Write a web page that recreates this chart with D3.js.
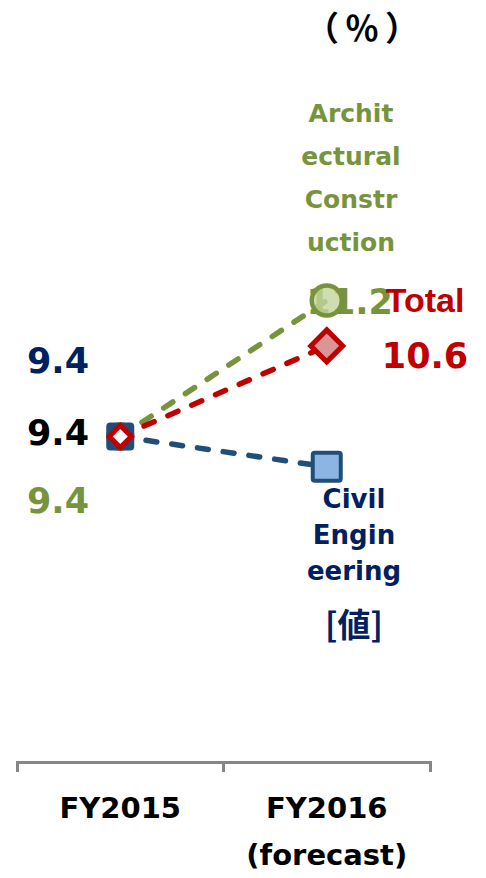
<!DOCTYPE html>
<html>
<head>
<meta charset="utf-8">
<script src="https://cdn.jsdelivr.net/npm/d3@7"></script>
<style>
  html, body { margin: 0; padding: 0; background: #ffffff; }
  svg { display: block; }
  text { font-family: "DejaVu Sans", Verdana, sans-serif; font-weight: bold; }
</style>
</head>
<body>
<svg id="chart" width="486" height="878"></svg>
<script>
// ---- data ----
const categories = ["FY2015", "FY2016"];
const categoryLabels = [["FY2015"], ["FY2016", "(forecast)"]];
const seriesNames = ["Architectural Construction", "Total", "Civil Engineering"];
const archValues = [9.4, 11.2];
const totalValues = [9.4, 10.6];
const civilValues = [9.4, 9.0];
const archLabelLines = ["Archit", "ectural", "Constr", "uction"];
const civilLabelLines = ["Civil", "Engin", "eering"];
const civilValueLabel = "[値]";
const unitLabel = "（％）";

// ---- colours ----
const green = "#77933C", greenLight = "#C3D69B";
const red = "#C00000", redLight = "#DA9694";
const blue = "#1F4E79", blueLight = "#8DB4E2";
const navy = "#002060";

const svg = d3.select("#chart");

const x = d3.scaleBand().domain(categories).range([17, 430]).padding(0);
const cx = c => x(c) + x.bandwidth() / 2;
const y = d3.scaleLinear().domain([5, 14]).range([769, 89]);
const axisY = 762;

// ---- axis ----
const axisG = svg.append("g").attr("transform", `translate(0,${axisY})`);
axisG.call(d3.axisBottom(x).tickSize(0).tickSizeOuter(10).tickFormat(""));
axisG.select(".domain").attr("stroke", "#878787").attr("stroke-width", 3).attr("fill", "none");
axisG.selectAll(".tick").remove();
axisG.append("line")
  .attr("x1", x("FY2016")).attr("x2", x("FY2016"))
  .attr("y1", 0).attr("y2", 10)
  .attr("stroke", "#878787").attr("stroke-width", 3);

categories.forEach((c, i) => {
  const t = svg.append("text").attr("text-anchor", "middle")
    .attr("font-size", 29).attr("fill", "#000");
  categoryLabels[i].forEach((ln, j) => {
    t.append("tspan").attr("x", cx(c)).attr("y", 818 + j * 47).text(ln);
  });
});

// ---- unit ----
svg.append("text").attr("x", 365).attr("y", 41).attr("text-anchor", "middle")
  .attr("font-size", 34).attr("fill", "#000").attr("letter-spacing", 6)
  .style("font-family", "'Noto Sans CJK JP', sans-serif")
  .text(unitLabel);

// ---- lines ----
function drawLine(values, color) {
  const line = d3.line().x((d, i) => cx(categories[i])).y(d => y(d));
  svg.append("path").datum(values)
    .attr("d", line).attr("fill", "none")
    .attr("stroke", color).attr("stroke-width", 5.5)
    .attr("stroke-linecap", "round")
    .attr("stroke-dasharray", "11,15");
}
drawLine(civilValues, blue);
drawLine(archValues, green);
drawLine(totalValues, red);

// green value label (drawn under marker)
svg.append("text").attr("x", cx("FY2016") + 23).attr("y", y(archValues[1]) + 13)
  .attr("text-anchor", "middle").attr("font-size", 35).attr("fill", green)
  .text(archValues[1].toFixed(1));

// ---- markers ----
archValues.forEach((v, i) => {
  svg.append("circle").attr("cx", cx(categories[i])).attr("cy", y(v))
    .attr("r", i === 0 ? 12 : 15)
    .attr("fill", i === 0 ? green : greenLight).attr("fill-opacity", i === 0 ? 1 : 0.8)
    .attr("stroke", green).attr("stroke-width", 4.5);
});
civilValues.forEach((v, i) => {
  const s = i === 0 ? 24 : 28;
  svg.append("rect")
    .attr("x", cx(categories[i]) - s / 2).attr("y", y(v) - s / 2)
    .attr("width", s).attr("height", s).attr("rx", 2)
    .attr("fill", i === 0 ? blue : blueLight)
    .attr("stroke", blue).attr("stroke-width", 4);
});
totalValues.forEach((v, i) => {
  const h = i === 0 ? 11 : 16;
  const px = cx(categories[i]), py = y(v);
  svg.append("path")
    .attr("d", `M${px},${py - h}L${px + h},${py}L${px},${py + h}L${px - h},${py}Z`)
    .attr("fill", i === 0 ? "#ffffff" : redLight)
    .attr("stroke", red).attr("stroke-width", 5);
});

// ---- labels at FY2015 ----
const leftX = 27;
svg.append("text").attr("x", leftX).attr("y", 373).attr("font-size", 35).attr("fill", navy)
  .text(civilValues[0].toFixed(1));
svg.append("text").attr("x", leftX).attr("y", 445).attr("font-size", 35).attr("fill", "#000")
  .text(totalValues[0].toFixed(1));
svg.append("text").attr("x", leftX).attr("y", 513).attr("font-size", 35).attr("fill", green)
  .text(archValues[0].toFixed(1));

// ---- labels at FY2016 ----
const archText = svg.append("text").attr("text-anchor", "middle").attr("font-size", 25).attr("fill", green);
archLabelLines.forEach((ln, j) => {
  archText.append("tspan").attr("x", 351).attr("y", 122 + j * 43).text(ln);
});

svg.append("text").attr("x", 425).attr("y", 312).attr("text-anchor", "middle")
  .attr("font-size", 34).attr("fill", red)
  .style("font-family", "'Liberation Sans', Arial, sans-serif")
  .text("Total");
svg.append("text").attr("x", 425).attr("y", 368).attr("text-anchor", "middle")
  .attr("font-size", 35).attr("fill", red)
  .text(totalValues[1].toFixed(1));

const civilText = svg.append("text").attr("text-anchor", "middle").attr("font-size", 26).attr("fill", navy);
civilLabelLines.forEach((ln, j) => {
  civilText.append("tspan").attr("x", 354).attr("y", 508 + j * 36).text(ln);
});
svg.append("text").attr("x", 354).attr("y", 637).attr("text-anchor", "middle")
  .attr("font-size", 33).attr("fill", navy)
  .style("font-family", "'Noto Sans CJK JP', sans-serif")
  .text(civilValueLabel);
</script>
</body>
</html>
